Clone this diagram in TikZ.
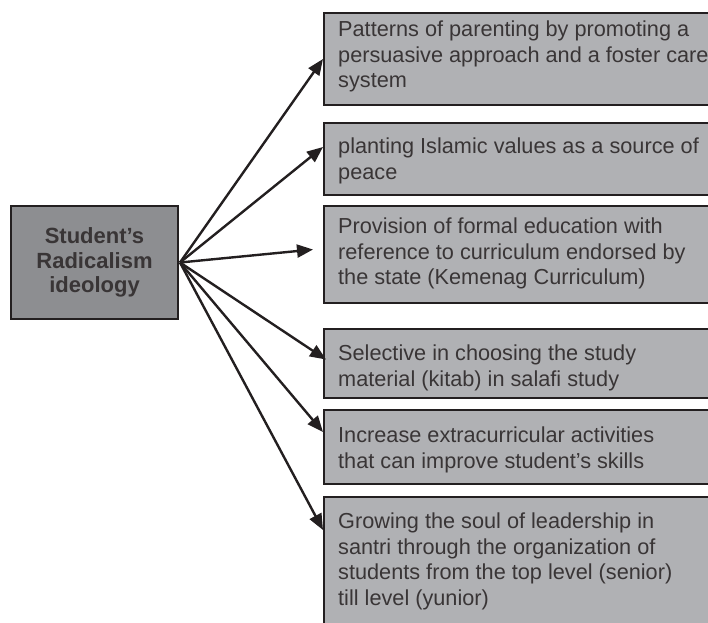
\documentclass[tikz,border=0pt]{standalone}
\usepackage{fontspec}
\setmainfont{Liberation Sans}
\usetikzlibrary{arrows.meta}
\definecolor{edge}{HTML}{231F20}
\definecolor{darkfill}{HTML}{8D8E91}
\definecolor{lightfill}{HTML}{B0B1B4}
\tikzset{
  mainbox/.style={draw=edge, line width=2pt, fill=darkfill, minimum width=167pt, minimum height=113pt, anchor=north west, inner sep=0pt},
  itembox/.style={draw=edge, line width=2pt, fill=lightfill, minimum width=385pt, anchor=north west, inner sep=0pt},
  itemtext/.style={anchor=north west, inner sep=0pt, align=left, font=\fontsize{21.7pt}{25.5pt}\selectfont, text=edge!90},
  conn/.style={draw=edge, line width=2.4pt, -{Triangle[length=16pt,width=13pt]}}
}
\begin{document}
\begin{tikzpicture}[x=1pt,y=-1pt]
\useasboundingbox (0,0) rectangle (708,622);
\node[mainbox, align=center, font=\fontsize{22pt}{24.5pt}\selectfont\bfseries, text=edge!90] (L) at (10,205) {Student’s\\Radicalism\\ideology};

\node[itembox, minimum height=92pt] (B1) at (323,12) {};
\node[itembox, minimum height=72pt] (B2) at (323,122) {};
\node[itembox, minimum height=97pt] (B3) at (323,205) {};
\node[itembox, minimum height=69pt] (B4) at (323,328) {};
\node[itembox, minimum height=74pt] (B5) at (323,409) {};
\node[itembox, minimum height=130pt] (B6) at (323,496) {};

\node[itemtext] (T1) at ([xshift=15pt,yshift=-9pt]B1.north west) {Patterns of parenting by promoting a\\persuasive approach and a foster care\\system};
\node[itemtext] (T2) at ([xshift=15pt,yshift=-16pt]B2.north west) {planting Islamic values as a source of\\peace};
\node[itemtext] (T3) at ([xshift=15pt,yshift=-13pt]B3.north west) {Provision of formal education with\\reference to curriculum endorsed by\\the state (Kemenag Curriculum)};
\node[itemtext] (T4) at ([xshift=15pt,yshift=-17pt]B4.north west) {Selective in choosing the study\\material (kitab) in salafi study};
\node[itemtext] (T5) at ([xshift=15pt,yshift=-18pt]B5.north west) {Increase extracurricular activities\\that can improve student’s skills};
\node[itemtext] (T6) at ([xshift=15pt,yshift=-17pt]B6.north west) {Growing the soul of leadership in\\santri through the organization of\\students from the top level (senior)\\till level (yunior)};

\coordinate (O) at ([xshift=1pt]L.east);
\draw[conn] (O) -- (B1.west);
\draw[conn] (O) -- ([yshift=-25pt]B2.north west);
\draw[conn] (O) -- ([xshift=-10pt,yshift=5pt]B3.west);
\draw[conn] (O) -- ([xshift=3pt,yshift=4pt]B4.west);
\draw[conn] (O) -- ([yshift=-23pt]B5.north west);
\draw[conn] (O) -- ([yshift=-34pt]B6.north west);
\end{tikzpicture}
\end{document}
